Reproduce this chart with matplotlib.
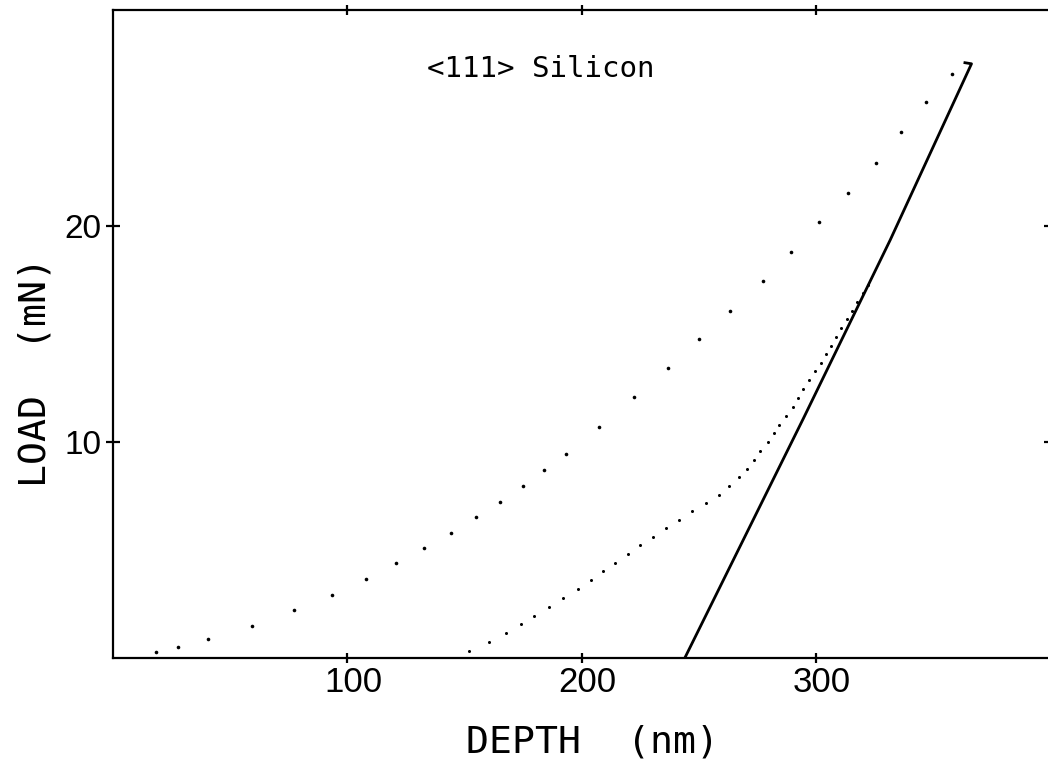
import matplotlib
matplotlib.use('Agg')
import matplotlib.pyplot as plt
import matplotlib.transforms as mtransforms

# loading curve (sparse dots)
load_depth = [18.6, 27.9, 40.7, 59.5, 77.4, 93.6, 108.1, 120.9, 132.8, 144.3,
              155.0, 165.2, 175.1, 184.0, 193.4, 207.5, 222.4, 237.0, 250.1,
              263.5, 277.3, 289.3, 301.4, 313.6, 325.6, 336.3, 346.9, 358.0]
load_force = [0.28, 0.50, 0.87, 1.47, 2.21, 2.90, 3.64, 4.38, 5.08, 5.77,
              6.51, 7.21, 7.95, 8.69, 9.43, 10.68, 12.07, 13.43, 14.74,
              16.06, 17.44, 18.78, 20.16, 21.51, 22.90, 24.34, 25.72, 27.05]

# unloading curve (dense dots)
unload_depth = [152.0, 160.6, 167.8, 174.2, 179.7, 186.1, 192.1, 198.5, 204.0,
                209.2, 214.3, 219.8, 225.1, 230.5, 236.0, 241.6, 247.1, 253.1,
                258.7, 263.0, 267.3, 270.7, 273.7, 276.3, 279.5, 281.9, 284.4,
                287.2, 290.0, 292.4, 294.6, 297.1, 299.6, 302.0, 304.2, 306.4,
                308.5, 310.8, 313.1, 315.2, 317.6, 319.9, 322.1]
unload_force = [0.31, 0.73, 1.14, 1.56, 1.93, 2.35, 2.76, 3.18, 3.60,
                4.01, 4.38, 4.80, 5.22, 5.59, 6.00, 6.37, 6.79, 7.16,
                7.53, 7.95, 8.37, 8.74, 9.15, 9.57, 9.99, 10.40, 10.77,
                11.19, 11.61, 12.02, 12.44, 12.86, 13.27, 13.66, 14.06, 14.46,
                14.86, 15.28, 15.67, 16.06, 16.48, 16.87, 17.26]

# linear fit to unloading
fit_depth = [363.5, 366.3, 331.6, 294.6, 244.1]
fit_force = [27.56, 27.51, 19.34, 11.08, 0.0]

x_ticks = [100, 200, 300]
y_ticks = [10, 20]

mono = ['DejaVu Sans Mono']
tickfont = ['Liberation Sans', 'DejaVu Sans']

fig = plt.figure(figsize=(10.48, 7.66), dpi=100)
ax = fig.add_axes([0.1074, 0.1414, 0.895, 0.8455])

ax.plot(load_depth, load_force, linestyle='none', marker='o', markersize=2.6,
        color='black', markeredgewidth=0)
ax.plot(unload_depth, unload_force, linestyle='none', marker='o', markersize=2.2,
        color='black', markeredgewidth=0)
ax.plot(fit_depth, fit_force, color='black', linewidth=2.0)

ax.set_xlim(0, 400)
ax.set_ylim(0, 30)
ax.set_xticks(x_ticks)
ax.set_yticks(y_ticks)

for s in ax.spines.values():
    s.set_linewidth(1.6)

ax.tick_params(axis='x', direction='inout', length=7, width=1.6, top=True,
               pad=2.5, labelsize=25)
ax.tick_params(axis='y', direction='inout', length=10, width=1.6, right=True,
               pad=3.2, labelsize=24)
shift = mtransforms.ScaledTranslation(6 / 100, 0, fig.dpi_scale_trans)
for lab in ax.get_xticklabels():
    lab.set_family(tickfont)
    lab.set_transform(lab.get_transform() + shift)
for lab in ax.get_yticklabels():
    lab.set_family(tickfont)

ax.text(134, 26.9, '<111> Silicon', family=mono, fontsize=21,
        ha='left', va='baseline')

fig.text(592 / 1048, 1 - 752 / 766, 'DEPTH  (nm)', family=mono, fontsize=27.5,
         ha='center', va='baseline')
fig.text(36 / 1048, 1 - 372 / 766, 'LOAD  (mN)', family=mono, fontsize=27.5,
         ha='center', va='center', rotation=90)

fig.savefig('out.png', dpi=100)
